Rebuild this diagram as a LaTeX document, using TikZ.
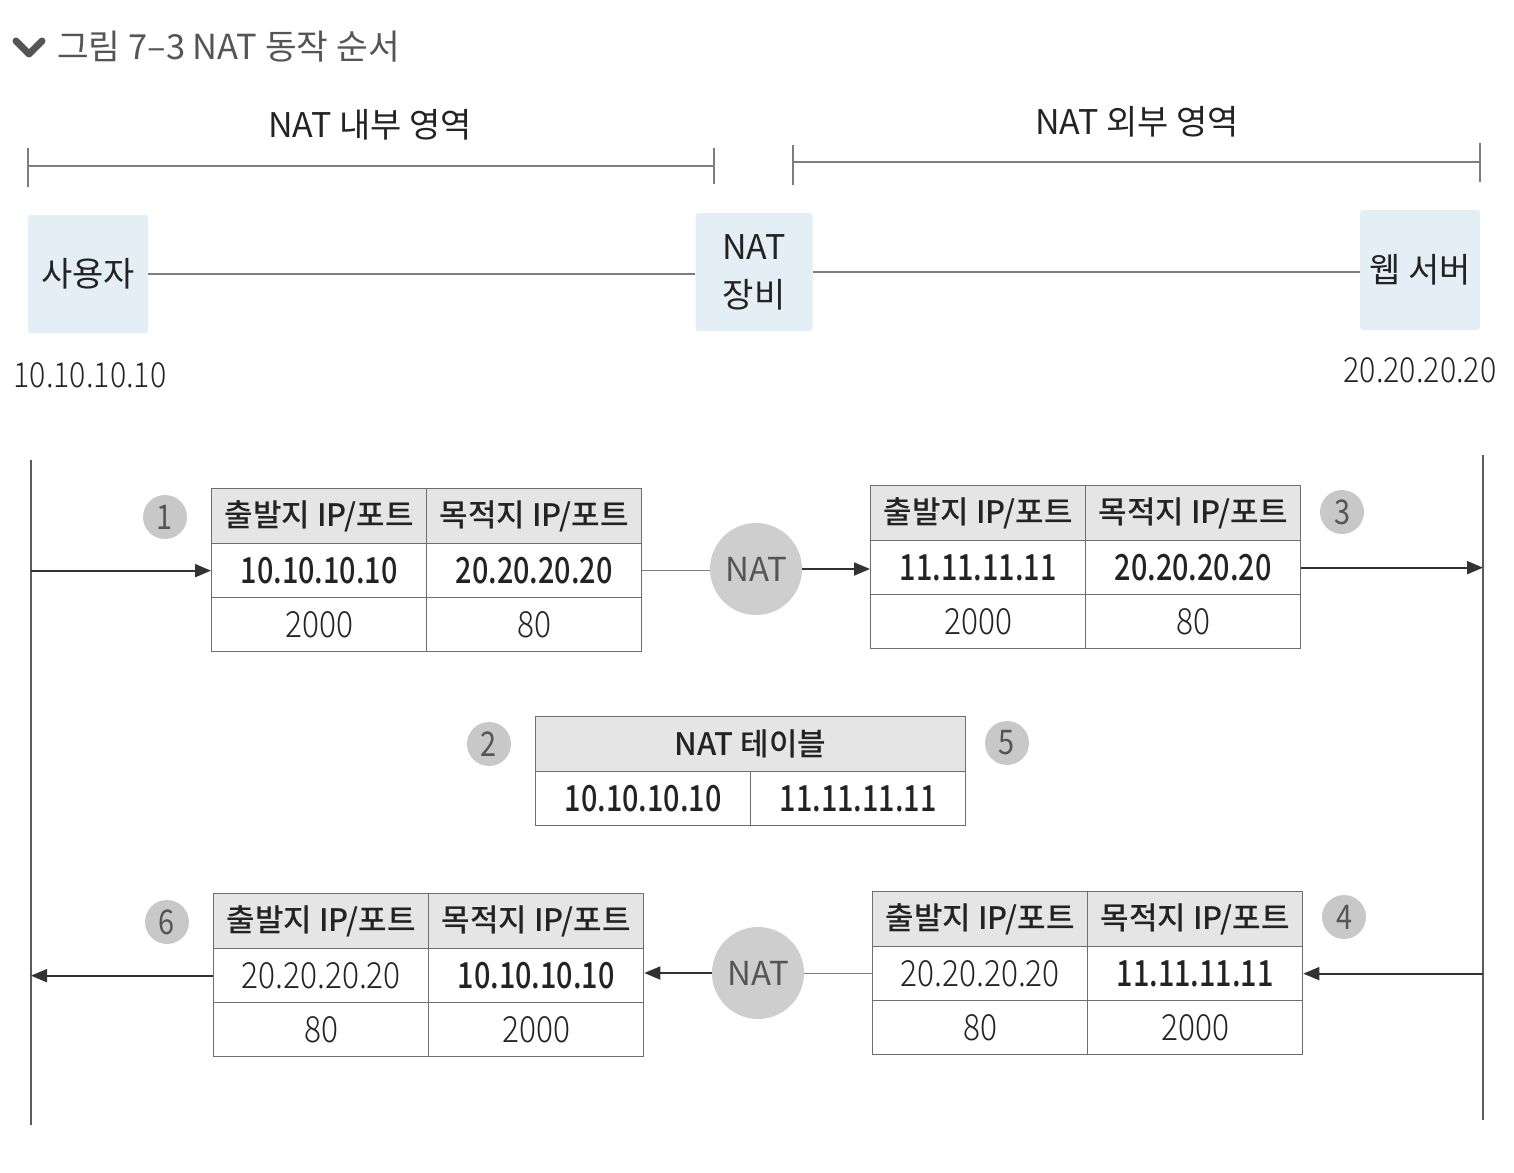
\documentclass[tikz,border=0pt]{standalone}
\usepackage{fontspec}
\setmainfont{Noto Sans CJK KR}
\newfontfamily\regnumf[FakeStretch=0.85]{Noto Sans CJK KR}
\IfFontExistsTF{Noto Sans CJK KR Light}{%
  \newfontfamily\numf[FakeStretch=0.88]{Noto Sans CJK KR Light}%
}{%
  \newfontfamily\numf[FakeStretch=0.88]{Noto Sans CJK KR}%
}
\IfFontExistsTF{Noto Sans CJK KR Medium}{%
  \newfontfamily\medf{Noto Sans CJK KR Medium}%
  \newfontfamily\mednumf[FakeStretch=0.8]{Noto Sans CJK KR Medium}%
}{%
  \newfontfamily\medf[FakeBold=1.2]{Noto Sans CJK KR}%
  \newfontfamily\mednumf[FakeStretch=0.8,FakeBold=1]{Noto Sans CJK KR}%
}
\usetikzlibrary{arrows.meta,calc}
\definecolor{boxc}{RGB}{228,238,245}
\definecolor{hdrc}{RGB}{229,229,229}
\definecolor{circc}{RGB}{200,200,200}
\definecolor{natfill}{RGB}{206,206,206}
\definecolor{tblc}{RGB}{110,110,110}
\definecolor{linec}{RGB}{125,125,125}
\definecolor{arrc}{RGB}{50,50,50}
\definecolor{txtc}{RGB}{35,35,35}
\definecolor{ttlc}{RGB}{85,85,85}
\tikzset{
 cell/.style={draw=tblc, line width=1.3pt, minimum width=215pt, minimum height=54pt, inner sep=0pt, anchor=north west, text=txtc},
 hcell/.style={cell, fill=hdrc, minimum height=55pt, font=\medf\fontsize{31}{33}\selectfont},
 vb/.style={font=\mednumf\fontsize{36}{38}\selectfont},
 vr/.style={font=\numf\fontsize{36}{38}\selectfont},
 numc/.style={circle, fill=circc, minimum size=44pt, inner sep=0pt, text=ttlc, font=\regnumf\fontsize{34}{34}\selectfont},
 natcirc/.style={circle, fill=natfill, minimum size=92pt, inner sep=0pt, text=ttlc, font=\fontsize{33}{34}\selectfont},
 dev/.style={fill=boxc, rounded corners=3pt, minimum width=120pt, minimum height=118pt, inner sep=0pt, text=txtc, font=\fontsize{34}{48}\selectfont, align=center},
 arr/.style={draw=arrc, line width=1.8pt, -{Triangle[length=16pt,width=13pt]}},
 conn/.style={draw=linec, line width=1.3pt},
 vline/.style={draw=arrc!80, line width=1.4pt},
 brk/.style={draw=linec, line width=1.2pt},
 lbl/.style={text=txtc, font=\fontsize{34}{36}\selectfont},
 ip/.style={text=txtc, font=\numf\fontsize{34.5}{36}\selectfont},
}
\newcommand\pkttab[9]{%
 \node[hcell] (#1ha) at (#2,#3) {출발지 IP/포트};
 \node[hcell] (#1hb) at ({#2+215},#3) {목적지 IP/포트};
 \node[cell,#8] (#1b) at (#2,{#3+55}) {#4};
 \node[cell,#9] (#1c) at ({#2+215},{#3+55}) {#5};
 \node[cell,vr] (#1d) at (#2,{#3+109}) {#6};
 \node[cell,vr] (#1e) at ({#2+215},{#3+109}) {#7};
}
\begin{document}
\begin{tikzpicture}[x=1pt,y=-1pt]
\useasboundingbox (0,0) rectangle (1514,1172);
% title
\draw[draw=ttlc, line width=7pt, line cap=round, line join=round] (16,41) -- (29,54) -- (42,41);
\node[anchor=west, text=ttlc, font=\fontsize{34.5}{36}\selectfont, inner sep=0pt] (title) at (57,47) {그림 7–3 NAT 동작 순서};
% region labels and brackets
\node[lbl] (inlbl) at (370,125) {NAT 내부 영역};
\node[lbl] (outlbl) at (1137,122) {NAT 외부 영역};
\draw[brk] (28,148) -- (28,187) (28,166) -- (714,166) (714,148) -- (714,184);
\draw[brk] (793,145) -- (793,185) (793,162) -- (1480,162) (1480,143) -- (1480,182);
% devices
\node[dev] (user) at (88,274) {사용자};
\node[dev, minimum width=117pt] (natdev) at (754,272) {NAT\\장비};
\node[dev, minimum height=120pt] (web) at (1420,270) {웹 서버};
\draw[conn] (user.east) -- (user.east -| natdev.west);
\draw[conn] (natdev.east) -- (natdev.east -| web.west);
\node[ip] (userip) at (90,375) {10.10.10.10};
\node[ip] (webip) at (1420,370) {20.20.20.20};
% lifelines
\coordinate (lvt) at (31,460);
\coordinate (lvb) at (31,1125);
\coordinate (rvt) at (1483,455);
\coordinate (rvb) at (1483,1120);
\draw[vline] (lvt) -- (lvb);
\draw[vline] (rvt) -- (rvb);
% packet tables
\pkttab{ta}{211}{488}{10.10.10.10}{20.20.20.20}{2000}{80}{vb}{vb}
\pkttab{tc}{870}{485}{11.11.11.11}{20.20.20.20}{2000}{80}{vb}{vb}
\pkttab{td}{872}{891}{20.20.20.20}{11.11.11.11}{80}{2000}{vr}{vb}
\pkttab{tf}{213}{893}{20.20.20.20}{10.10.10.10}{80}{2000}{vr}{vb}
% NAT table
\node[hcell, minimum width=430pt] (ntab) at (535,716) {NAT 테이블};
\node[cell,vb] (ntabl) at (535,771) {10.10.10.10};
\node[cell,vb] (ntabr) at (750,771) {11.11.11.11};
% step numbers
\node[numc] (s1) at (165,517) {1};
\node[numc] (s2) at (489,744) {2};
\node[numc] (s3) at (1342,512) {3};
\node[numc] (s4) at (1344,917) {4};
\node[numc] (s5) at (1007,743) {5};
\node[numc] (s6) at (167,922) {6};
% NAT circles
\node[natcirc] (nat1) at (756,569) {NAT};
\node[natcirc] (nat2) at (758,973) {NAT};
% flows
\draw[arr] (tab.west -| lvt) -- (tab.west);
\draw[conn] (tac.east) -- (tac.east -| nat1.west);
\draw[arr] (nat1.east) -- (nat1.east -| tcb.west);
\draw[arr] (tcc.east) -- (tcc.east -| rvt);
\draw[arr] (tdc.east -| rvt) -- (tdc.east);
\draw[conn] (tdb.west) -- (tdb.west -| nat2.east);
\draw[arr] (nat2.west) -- (nat2.west -| tfc.east);
\draw[arr] (tfb.west) -- (tfb.west -| lvt);
\end{tikzpicture}
\end{document}
